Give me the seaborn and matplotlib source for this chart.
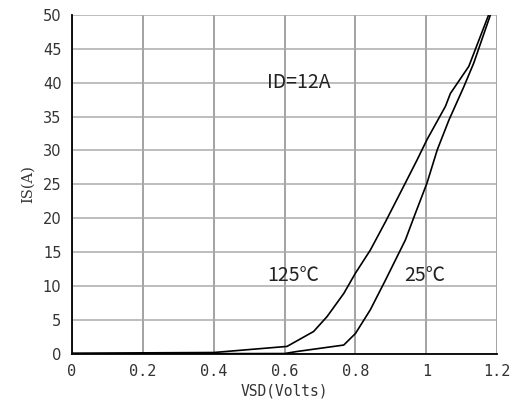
import matplotlib
matplotlib.use("Agg")
import matplotlib.pyplot as plt
import seaborn as sns
import pandas as pd

# Data
vsd_125 = [0.0, 0.4, 0.607, 0.682, 0.72, 0.767, 0.80, 0.842, 0.885, 0.936, 0.974, 1.002, 1.054, 1.068, 1.12, 1.176]
is_125 = [0.1, 0.2, 1.1, 3.3, 5.5, 8.9, 11.9, 15.3, 19.5, 24.7, 28.6, 31.6, 36.5, 38.4, 42.4, 50.0]
vsd_25 = [0.0, 0.6, 0.635, 0.767, 0.80, 0.842, 0.885, 0.941, 0.969, 1.002, 1.031, 1.064, 1.106, 1.134, 1.181]
is_25 = [0.0, 0.05, 0.35, 1.3, 3.0, 6.5, 10.9, 16.8, 20.7, 25.2, 30.1, 34.5, 39.4, 42.9, 50.0]
x_ticks = [0, 0.2, 0.4, 0.6, 0.8, 1.0, 1.2]
x_tick_labels = ["0", "0.2", "0.4", "0.6", "0.8", "1", "1.2"]
y_ticks = [0, 5, 10, 15, 20, 25, 30, 35, 40, 45, 50]

df = pd.concat([
    pd.DataFrame({"VSD": vsd_125, "IS": is_125, "T": "125"}),
    pd.DataFrame({"VSD": vsd_25, "IS": is_25, "T": "25"}),
])

sns.set_style("white")
fig = plt.figure(figsize=(5.25, 4.11), dpi=100)
ax = fig.add_axes([0.137, 0.139, 0.810, 0.825])
sns.lineplot(data=df, x="VSD", y="IS", units="T", estimator=None, sort=False,
             color="black", linewidth=1.2, ax=ax, legend=False)

ax.set_xlim(0, 1.2)
ax.set_ylim(0, 50)
ax.set_xticks(x_ticks)
ax.set_xticklabels(x_tick_labels)
ax.set_yticks(y_ticks)
ax.xaxis.grid(True, color="#8a8a8a", linewidth=1.1)
ax.yaxis.grid(True, color="#ababab", linewidth=1.1)
ax.set_axisbelow(True)
for s in ["top", "right"]:
    ax.spines[s].set_visible(False)
for s in ["left", "bottom"]:
    ax.spines[s].set_color("black")
    ax.spines[s].set_linewidth(1.3)
ax.tick_params(direction="inout", length=7, width=1.0, color="black",
               labelsize=11, labelcolor="#333333", pad=4)
for lab in ax.get_xticklabels():
    lab.set_family("DejaVu Sans Mono")
for lab in ax.get_yticklabels():
    lab.set_family("DejaVu Sans")
    lab.set_fontsize(10.5)

ax.set_xlabel("VSD(Volts)", fontsize=10.5, family="DejaVu Sans Mono", color="#333333", labelpad=3)
ax.set_ylabel("IS(A)", fontsize=10.5, family="DejaVu Serif", color="#333333", labelpad=6)

fam = ["Noto Sans CJK SC", "DejaVu Sans"]
ax.text(0.55, 40, "ID=12A", fontsize=14, family=fam, va="center", ha="left", color="#222222")
ax.text(0.55, 11.5, "125℃", fontsize=14, family=fam, va="center", ha="left", color="#222222")
ax.text(0.937, 11.5, "25℃", fontsize=14, family=fam, va="center", ha="left", color="#222222")

fig.savefig("out.png", dpi=100)
